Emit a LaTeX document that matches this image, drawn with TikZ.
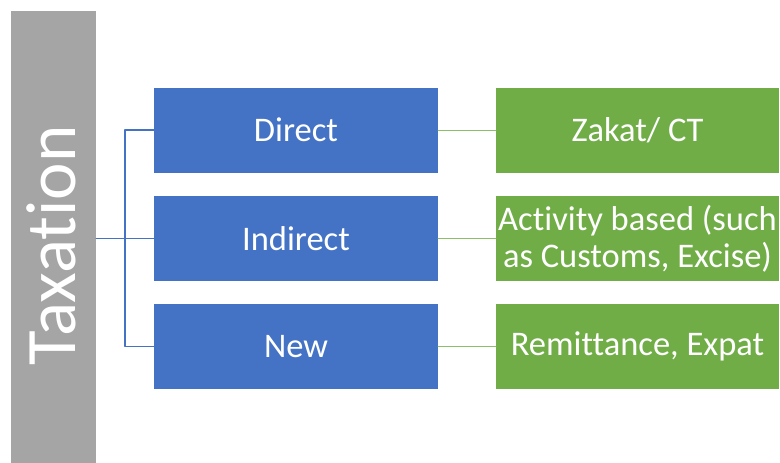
\documentclass[tikz,border=0pt]{standalone}
\usepackage{fontspec}
\setmainfont{Carlito}[Ligatures=NoCommon]
\usetikzlibrary{positioning}
\definecolor{aaaaaa}{HTML}{A5A5A5}
\definecolor{qqblue}{HTML}{4472C4}
\definecolor{qqgreen}{HTML}{70AD47}
\definecolor{bbgreen}{HTML}{8CC068}

\tikzset{
	taxbox/.style={fill=aaaaaa,draw=none,minimum width=85pt,minimum height=452pt,inner sep=0pt},
	kindbox/.style={fill=qqblue,draw=none,minimum width=284pt,minimum height=85pt,inner sep=0pt,text=white,font=\fontsize{34.5}{37}\selectfont},
	itembox/.style={fill=qqgreen,draw=none,minimum width=283pt,minimum height=85pt,inner sep=0pt,text=white,align=center,font=\fontsize{34.5}{37}\selectfont},
	blueline/.style={color=qqblue,line width=1.4pt},
	greenline/.style={color=bbgreen,line width=1pt}
}

\begin{document}
\begin{tikzpicture}[line cap=round,line join=round,x=1pt,y=-1pt]
		\useasboundingbox (0,0) rectangle (780,463);
		\fill[white] (0,0) rectangle (780,463);
		% left column
		\node[taxbox] (tax) at (53.5,237) {};
			\node[rotate=90,text=white,inner sep=0pt,font=\fontsize{71}{80}\selectfont] (taxlbl) at (51,245.5) {Taxation};
		% blue boxes
		\node[kindbox] (dir) at (296,130) {Direct};
		\node[kindbox] (ind) at (296,238.5) {Indirect};
		\node[kindbox] (new) at (296,346.5) {New};
		% green boxes
		\node[itembox] (zak) at (637.5,130) {Zakat/ CT};
		\node[itembox] (act) at (637.5,238.5) {Activity based (such\\as Customs, Excise)};
		\node[itembox] (rem) at (637.5,346.5) {Remittance, Expat};
		% connectors
		\coordinate (fork) at (125,238.5);
		\draw[blueline] (tax.east |- ind.west) -- (ind.west);
		\draw[blueline,line cap=butt] (dir.west) -| (fork) |- (new.west);
		\draw[greenline] (dir.east) -- (zak.west);
		\draw[greenline] (ind.east) -- (act.west);
		\draw[greenline] (new.east) -- (rem.west);
	\end{tikzpicture}
\end{document}
